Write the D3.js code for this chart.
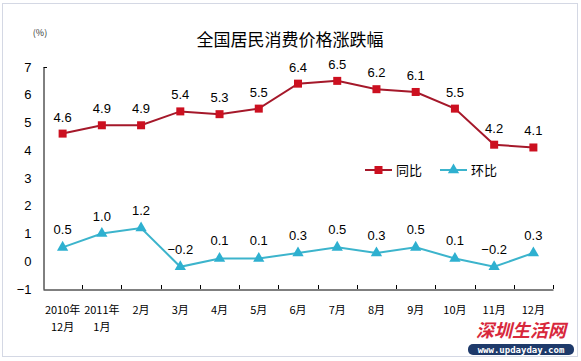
<!DOCTYPE html>
<html><head><meta charset="utf-8">
<script src="https://cdn.jsdelivr.net/npm/d3@7"></script>
<style>body{margin:0;background:#fff}svg{display:block}</style>
</head><body>
<script>
const categories = ["2010年\n12月","2011年\n1月","2月","3月","4月","5月","6月","7月","8月","9月","10月","11月","12月"];
const yoy = [4.6,4.9,4.9,5.4,5.3,5.5,6.4,6.5,6.2,6.1,5.5,4.2,4.1];
const mom = [0.5,1.0,1.2,-0.2,0.1,0.1,0.3,0.5,0.3,0.5,0.1,-0.2,0.3];
const yTicks = [-1,0,1,2,3,4,5,6,7];
const seriesNames = ["同比","环比"];

const W=581,H=361;
const svg=d3.select("body").append("svg").attr("width",W).attr("height",H);
svg.append("rect").attr("x",2.5).attr("y",3.5).attr("width",575).attr("height",353)
  .attr("fill","#fff").attr("stroke","#d4d8e4");

const x=d3.scaleBand().domain(d3.range(categories.length)).range([43,553]);
const y=d3.scaleLinear().domain([-1,7]).range([289,67]);
const cx=i=>x(i)+x.bandwidth()/2;
const font="Liberation Sans, Arial, sans-serif";
const cjk="'Noto Sans CJK SC', sans-serif";

svg.append("text").attr("x",290).attr("y",46).attr("text-anchor","middle")
  .attr("font-family",cjk).attr("font-size",17).attr("fill","#000").text("全国居民消费价格涨跌幅");
svg.append("text").attr("x",40).attr("y",36).attr("text-anchor","middle")
  .attr("font-family",cjk).attr("font-size",9).attr("fill","#333").text("(%)");

// y axis
const ya=svg.append("g").attr("transform","translate(43.5,0)")
  .call(d3.axisLeft(y).tickValues(yTicks).tickSize(0).tickPadding(12).tickFormat(d3.format("d")));
ya.select(".domain").attr("stroke","#000");
ya.selectAll("text").attr("font-family",font).attr("font-size",13).attr("fill","#000");
svg.append("line").attr("x1",43.5).attr("x2",47).attr("y1",y(7)+0.5).attr("y2",y(7)+0.5).attr("stroke","#000");

// x axis
const xa=svg.append("g").attr("transform",`translate(0,${y(-1)+0.5})`)
  .call(d3.axisBottom(x).tickSize(0).tickFormat(""));
xa.select(".domain").attr("stroke","#000");
const bounds=d3.range(categories.length+1).map(i=>43+i*x.step());
svg.selectAll(".xt").data(bounds.slice(1)).join("line")
  .attr("x1",d=>Math.round(d)+0.5).attr("x2",d=>Math.round(d)+0.5)
  .attr("y1",y(-1)).attr("y2",y(-1)-4).attr("stroke","#000");
categories.forEach((c,i)=>{
  const t=svg.append("text").attr("text-anchor","middle").attr("font-family",cjk)
    .attr("font-size",11).attr("fill","#000");
  c.split("\n").forEach((l,k)=>t.append("tspan").attr("x",cx(i)).attr("y",314+k*17).text(l));
});

// lines
const line=d3.line().x((d,i)=>cx(i)).y(d=>y(d));
svg.append("path").datum(yoy).attr("d",line).attr("fill","none").attr("stroke","#a5182a").attr("stroke-width",2);
svg.append("path").datum(mom).attr("d",line).attr("fill","none").attr("stroke","#3cb4cc").attr("stroke-width",2);
svg.selectAll(".sq").data(yoy).join("rect").attr("x",(d,i)=>cx(i)-4).attr("y",d=>y(d)-4)
  .attr("width",8).attr("height",8).attr("fill","#cc1020");
const tri=d3.symbol().type(d3.symbolTriangle).size(55);
svg.selectAll(".tr").data(mom).join("path").attr("d",tri)
  .attr("transform",(d,i)=>`translate(${cx(i)},${y(d)})`).attr("fill","#2eb0d0");

const fmt=d3.format(".1f");
svg.selectAll(".ly").data(yoy).join("text").attr("x",(d,i)=>cx(i)).attr("y",d=>y(d)-12)
  .attr("text-anchor","middle").attr("font-family",font).attr("font-size",13).attr("fill","#000").text(fmt);
svg.selectAll(".lm").data(mom).join("text").attr("x",(d,i)=>cx(i)).attr("y",d=>y(d)-13)
  .attr("text-anchor","middle").attr("font-family",font).attr("font-size",13).attr("fill","#000").text(fmt);

// legend
const lg=svg.append("g");
[[365,"#a5182a","#cc1020","sq"],[440,"#3cb4cc","#2eb0d0","tri"]].forEach(([lx,lc,mc,m],k)=>{
  lg.append("line").attr("x1",lx).attr("x2",lx+27).attr("y1",170).attr("y2",170).attr("stroke",lc).attr("stroke-width",2);
  if(m==="sq") lg.append("rect").attr("x",lx+9.5).attr("y",166).attr("width",8).attr("height",8).attr("fill",mc);
  else lg.append("path").attr("d",tri).attr("transform",`translate(${lx+13.5},170)`).attr("fill",mc);
  lg.append("text").attr("x",lx+31).attr("y",175).attr("font-family",cjk).attr("font-size",13).attr("fill","#000").text(seriesNames[k]);
});

// watermark
svg.append("text").attr("x",521).attr("y",337).attr("text-anchor","middle").attr("font-family",cjk)
  .attr("font-size",18).attr("font-style","italic").attr("font-weight","bold").attr("fill","#d8283c")
  .attr("stroke","#fff").attr("stroke-width",0.8).attr("paint-order","stroke").text("深圳生活网");
svg.append("rect").attr("x",468).attr("y",344).attr("width",106).attr("height",11).attr("rx",5).attr("fill","#1e3a6a");
svg.append("text").attr("x",521).attr("y",352.5).attr("text-anchor","middle").attr("font-family","DejaVu Sans Mono, monospace")
  .attr("font-size",9).attr("fill","#fff").attr("font-weight","bold").text("www.updayday.com");
</script>
</body></html>
